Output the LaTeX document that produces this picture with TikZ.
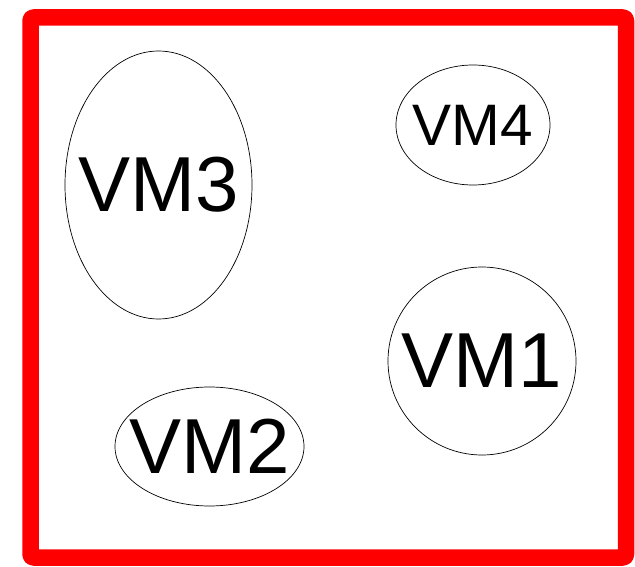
\documentclass[tikz,border=0pt]{standalone}
\usepackage{fontspec}
\setmainfont{Liberation Sans}
\usetikzlibrary{shapes.geometric}
\begin{document}
\begin{tikzpicture}[x=1pt,y=-1pt,
  vm/.style={draw=black, line width=0.7pt, ellipse, inner sep=0pt},
  big/.style={font=\fontsize{78}{80}\selectfont},
  small/.style={font=\fontsize{58.5}{60}\selectfont}]
\useasboundingbox (0,0) rectangle (635,567);
\fill[white] (0,0) rectangle (635,567);
\draw[red, line width=16.5pt, line join=round, rounded corners=3pt] (30.5,17.5) rectangle (626,557.5);
\node[vm, minimum width=187pt, minimum height=268pt, label={[big, inner sep=0pt]center:VM3}] (vm3) at (158.5,185) {};
\node[vm, minimum width=154pt, minimum height=120pt, label={[small, inner sep=0pt]center:VM4}] (vm4) at (473,125) {};
\node[vm, minimum width=188pt, minimum height=188pt, label={[big, inner sep=0pt]center:VM1}] (vm1) at (482,361) {};
\node[vm, minimum width=189pt, minimum height=119pt, label={[big, inner sep=0pt]center:VM2}] (vm2) at (209.5,446.5) {};
\end{tikzpicture}
\end{document}
